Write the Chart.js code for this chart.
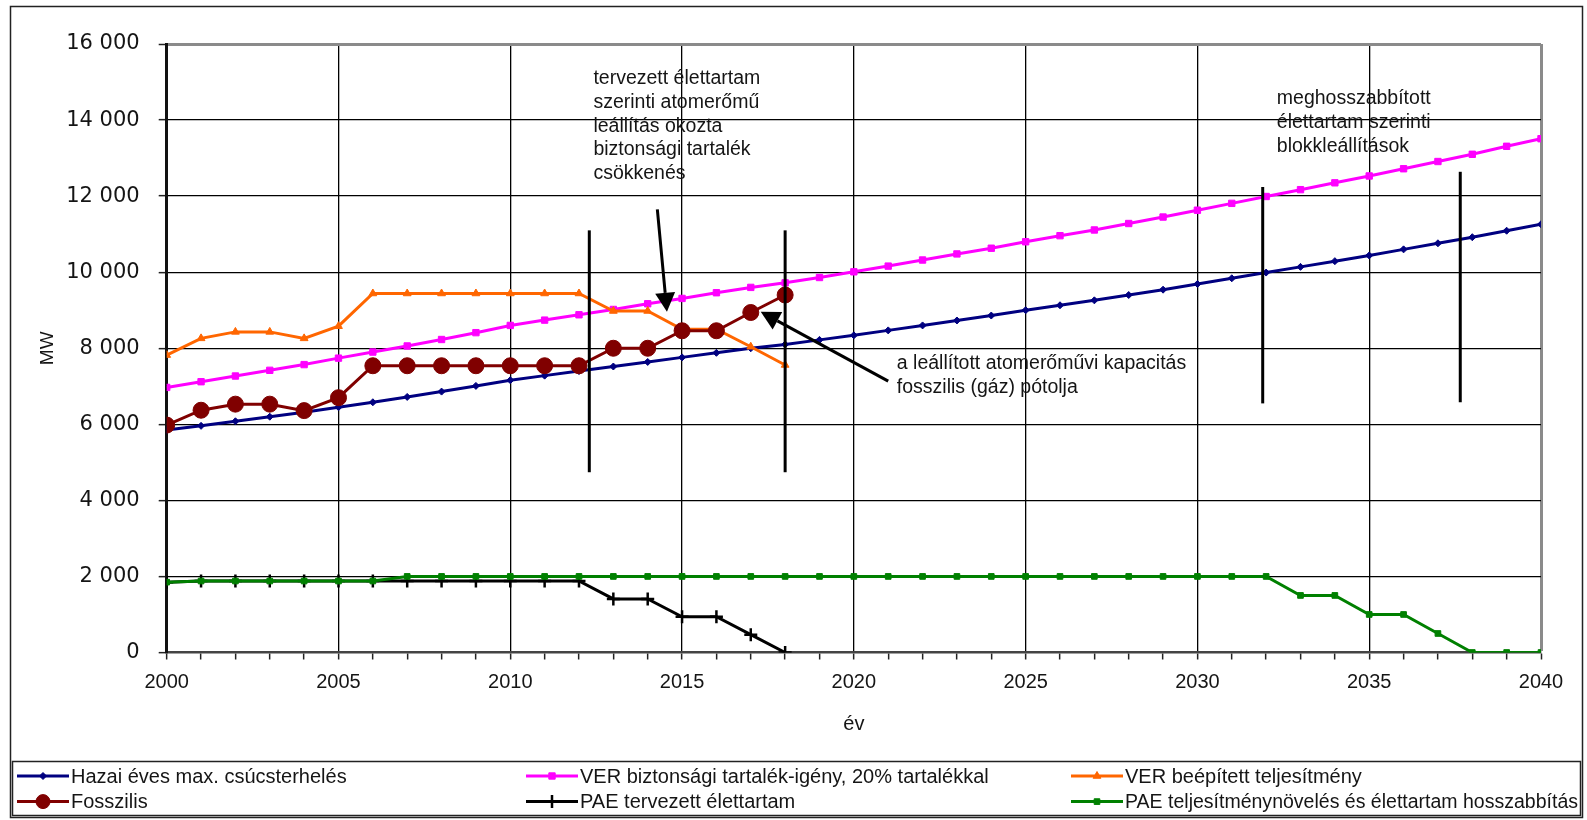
<!DOCTYPE html>
<html lang="hu">
<head>
<meta charset="utf-8">
<title>Csúcsterhelés és beépített teljesítmény, 2000–2040</title>
<script src="https://cdn.jsdelivr.net/npm/chart.js@4.4.1/dist/chart.umd.min.js"></script>
<style>
  html, body { margin: 0; padding: 0; background: #fff; }
  canvas { display: block; }
</style>
</head>
<body>
<canvas id="chart" width="1587" height="820"></canvas>
<script>
// Évek (vízszintes tengely)
const years = [2000, 2001, 2002, 2003, 2004, 2005, 2006, 2007, 2008, 2009,
               2010, 2011, 2012, 2013, 2014, 2015, 2016, 2017, 2018, 2019,
               2020, 2021, 2022, 2023, 2024, 2025, 2026, 2027, 2028, 2029,
               2030, 2031, 2032, 2033, 2034, 2035, 2036, 2037, 2038, 2039, 2040];

// Hazai éves max. csúcsterhelés (MW)
const csucsterheles = [5850, 5960, 6080, 6200, 6320, 6450, 6580, 6720, 6860, 7010,
                       7160, 7280, 7400, 7520, 7640, 7760, 7880, 8000, 8100, 8220,
                       8340, 8470, 8600, 8730, 8860, 9000, 9130, 9260, 9400, 9540,
                       9690, 9840, 9990, 10140, 10290, 10440, 10600, 10760, 10920, 11090, 11260];

// VER biztonsági tartalék-igény, 20% tartalékkal (MW)
const tartalekIgeny = [6970, 7120, 7270, 7420, 7570, 7740, 7900, 8060, 8230, 8410,
                       8600, 8740, 8880, 9020, 9170, 9310, 9460, 9600, 9720, 9860,
                       10010, 10160, 10320, 10480, 10630, 10800, 10960, 11110, 11280, 11450,
                       11630, 11810, 11990, 12170, 12350, 12530, 12720, 12910, 13100, 13310, 13510];

// VER beépített teljesítmény, 2000–2018 (MW)
const beepitett = [7820, 8260, 8430, 8430, 8260, 8580, 9440, 9440, 9440, 9440,
                   9440, 9440, 9440, 8980, 8980, 8500, 8500, 8040, 7560];

// Fosszilis, 2000–2018 (MW)
const fosszilis = [5980, 6370, 6530, 6530, 6360, 6700, 7540, 7540, 7540, 7540,
                   7540, 7540, 7540, 8000, 8000, 8460, 8460, 8940, 9400];

// PAE tervezett élettartam, 2000–2018 (MW)
const paeTervezett = [1850, 1880, 1880, 1880, 1880, 1880, 1880, 1880, 1880, 1880,
                      1880, 1880, 1880, 1410, 1410, 940, 940, 470, 0];

// PAE teljesítménynövelés és élettartam hosszabbítás (MW)
const paeHosszabbitas = [1850, 1880, 1880, 1880, 1880, 1880, 1880, 2000, 2000, 2000,
                         2000, 2000, 2000, 2000, 2000, 2000, 2000, 2000, 2000, 2000,
                         2000, 2000, 2000, 2000, 2000, 2000, 2000, 2000, 2000, 2000,
                         2000, 2000, 2000, 1500, 1500, 1000, 1000, 500, 0, 0, 0];

// Tengelyfeliratok
const xTickLabels = ['2000', '2005', '2010', '2015', '2020', '2025', '2030', '2035', '2040'];
const yTickLabels = ['0', '2 000', '4 000', '6 000', '8 000', '10 000', '12 000', '14 000', '16 000'];

// Magyarázó jelölések (adatkoordinátákban)
const markerLines = [
  { x: 2012.3,  from: 4740, to: 11100 },
  { x: 2018.0,  from: 4740, to: 11100 },
  { x: 2031.9,  from: 6550, to: 12240 },
  { x: 2037.65, from: 6580, to: 12640 }
];
const arrows = [
  { fromX: 2014.28, fromY: 11650, toX: 2014.56, toY: 8960 },
  { fromX: 2021.0,  fromY: 7135,  toX: 2017.29, toY: 8960 }
];
const notes = [
  { x: 2012.42, y: 15090, lines: ['tervezett élettartam', 'szerinti atomerőmű', 'leállítás okozta', 'biztonsági tartalék', 'csökkenés'] },
  { x: 2032.31, y: 14565, lines: ['meghosszabbított', 'élettartam szerinti', 'blokkleállítások'] },
  { x: 2021.25, y: 7600,  lines: ['a leállított atomerőművi kapacitás', 'fosszilis (gáz) pótolja'] }
];

const FONT = "'Liberation Sans', Arial, Helvetica, sans-serif";
const TEXT = '#151515';

const series = [
  { label: 'Hazai éves max. csúcsterhelés', values: csucsterheles, color: '#000080', style: 'rectRot', radius: 3.5, bw: 1 },
  { label: 'VER biztonsági tartalék-igény, 20% tartalékkal', values: tartalekIgeny, color: '#FF00FF', style: 'rect', radius: 4.5, bw: 1 },
  { label: 'VER beépített teljesítmény', values: beepitett, color: '#FF6600', style: 'triangle', radius: 4.5, bw: 1 },
  { label: 'Fosszilis', values: fosszilis, color: '#800000', style: 'circle', radius: 8, bw: 1 },
  { label: 'PAE tervezett élettartam', values: paeTervezett, color: '#000000', style: 'cross', radius: 6.5, bw: 2.5 },
  { label: 'PAE teljesítménynövelés és élettartam hosszabbítás', values: paeHosszabbitas, color: '#008000', style: 'rect', radius: 4, bw: 1 }
];

const toPoints = vals => vals.map((v, i) => ({ x: years[i], y: v }));

const datasets = series.map((s, i) => ({
  label: s.label,
  data: toPoints(s.values),
  borderColor: s.color,
  backgroundColor: s.color,
  borderWidth: 3,
  pointStyle: s.style,
  pointRadius: s.radius,
  pointBorderWidth: s.bw,
  pointBackgroundColor: s.color,
  pointBorderColor: s.color,
  tension: 0,
  order: series.length - i   // a később felsorolt sorozat kerül felülre
}));

// Jelölővonalak, nyilak és szövegek a diagramterületen
const notesPlugin = {
  id: 'notes',
  afterDatasetsDraw(chart) {
    const { ctx, scales: { x, y } } = chart;
    ctx.save();
    ctx.strokeStyle = '#000';
    ctx.fillStyle = '#000';
    ctx.lineWidth = 3;
    ctx.lineCap = 'butt';
    markerLines.forEach(m => {
      const px = x.getPixelForValue(m.x);
      ctx.beginPath();
      ctx.moveTo(px, y.getPixelForValue(m.to));
      ctx.lineTo(px, y.getPixelForValue(m.from));
      ctx.stroke();
    });
    arrows.forEach(a => {
      const x1 = x.getPixelForValue(a.fromX), y1 = y.getPixelForValue(a.fromY);
      const x2 = x.getPixelForValue(a.toX), y2 = y.getPixelForValue(a.toY);
      const ang = Math.atan2(y2 - y1, x2 - x1);
      const headLen = 19, headHalf = 10;
      const bx = x2 - headLen * Math.cos(ang), by = y2 - headLen * Math.sin(ang);
      ctx.lineWidth = 3;
      ctx.beginPath();
      ctx.moveTo(x1, y1);
      ctx.lineTo(bx, by);
      ctx.stroke();
      ctx.beginPath();
      ctx.moveTo(x2, y2);
      ctx.lineTo(bx + headHalf * Math.sin(ang), by - headHalf * Math.cos(ang));
      ctx.lineTo(bx - headHalf * Math.sin(ang), by + headHalf * Math.cos(ang));
      ctx.closePath();
      ctx.fill();
    });
    ctx.fillStyle = TEXT;
    ctx.font = `19.5px ${FONT}`;
    ctx.textAlign = 'left';
    ctx.textBaseline = 'middle';
    notes.forEach(n => {
      const px = x.getPixelForValue(n.x), py = y.getPixelForValue(n.y);
      n.lines.forEach((t, i) => ctx.fillText(t, px, py + i * 23.8));
    });
    ctx.restore();
  }
};

// Keret és jelmagyarázat
const frameLegendPlugin = {
  id: 'frameLegend',
  afterDraw(chart) {
    const { ctx } = chart;
    ctx.save();
    ctx.strokeStyle = '#222';
    ctx.lineWidth = 1.5;
    ctx.strokeRect(10.5, 6.5, 1572, 811);
    ctx.strokeRect(12.5, 761.5, 1568, 54);

    const cols = [17, 526, 1071];
    const rows = [776, 801.6];
    const sampleLen = 52;
    ctx.font = `20px ${FONT}`;
    ctx.textAlign = 'left';
    ctx.textBaseline = 'middle';
    chart.data.datasets.forEach((ds, i) => {
      const cx = cols[i % 3], cy = rows[Math.floor(i / 3)];
      ctx.strokeStyle = ds.borderColor;
      ctx.fillStyle = ds.borderColor;
      ctx.lineWidth = 3;
      ctx.beginPath();
      ctx.moveTo(cx, cy);
      ctx.lineTo(cx + sampleLen, cy);
      ctx.stroke();
      ctx.lineWidth = ds.pointBorderWidth;
      Chart.helpers.drawPoint(ctx, {
        pointStyle: ds.pointStyle,
        radius: Math.min(ds.pointRadius, 7),
        rotation: 0,
        borderWidth: ds.pointBorderWidth
      }, cx + sampleLen / 2, cy);
      ctx.fillStyle = TEXT;
      const tx = cx + sampleLen + 2;
      ctx.fillText(ds.label, tx, cy + 1, 1578 - tx);
    });
    ctx.restore();
  }
};

new Chart(document.getElementById('chart'), {
  type: 'line',
  data: { datasets },
  plugins: [notesPlugin, frameLegendPlugin],
  options: {
    responsive: false,
    animation: false,
    devicePixelRatio: 1,
    events: [],
    layout: { padding: { left: 10, top: 44, right: 46, bottom: 80 } },
    plugins: { legend: { display: false }, tooltip: { enabled: false } },
    scales: {
      x: {
        type: 'linear',
        min: years[0],
        max: years[years.length - 1],
        afterBuildTicks: s => { s.ticks = years.map(v => ({ value: v })); },
        afterFit: s => { s.height = 87.5; s.paddingLeft = 0; s.paddingRight = 0; },
        ticks: {
          autoSkip: false,
          maxRotation: 0,
          padding: 11,
          color: TEXT,
          font: { family: FONT, size: 20 },
          callback: v => (xTickLabels.includes(String(v)) ? String(v) : '')
        },
        grid: {
          color: c => {
            const v = c.tick ? c.tick.value : null;
            if (v === years[0] || v === null) return 'rgba(0,0,0,0)';
            if (v === years[years.length - 1]) return '#8a8a8a';
            return v % 5 === 0 ? '#000' : 'rgba(0,0,0,0)';
          },
          lineWidth: c => (c.tick && c.tick.value === years[years.length - 1] ? 3 : 1.3),
          tickColor: '#222',
          tickWidth: 1.5,
          tickLength: 7
        },
        border: { color: '#444', width: 2.5 },
        title: {
          display: true,
          text: 'év',
          color: TEXT,
          font: { family: FONT, size: 20 },
          padding: { top: 0, bottom: 4 }
        }
      },
      y: {
        min: 0,
        max: 16000,
        afterFit: s => { s.width = 156.7; s.paddingTop = 0; s.paddingBottom = 0; },
        ticks: {
          stepSize: 2000,
          padding: 19,
          color: TEXT,
          font: { family: "'DejaVu Sans', Verdana, sans-serif", size: 21 },
          callback: (v) => yTickLabels[Math.round(v / 2000)]
        },
        grid: {
          color: c => {
            const v = c.tick ? c.tick.value : null;
            if (v === 0 || v === null) return 'rgba(0,0,0,0)';
            return v === 16000 ? '#8a8a8a' : '#000';
          },
          lineWidth: c => (c.tick && c.tick.value === 16000 ? 3 : 1.3),
          tickColor: '#222',
          tickWidth: 1.5,
          tickLength: 8
        },
        border: { color: '#111', width: 3 },
        title: {
          display: true,
          text: 'MW',
          color: TEXT,
          font: { family: FONT, size: 19 },
          padding: { top: 26, bottom: 0 }
        }
      }
    }
  }
});
</script>
</body>
</html>
